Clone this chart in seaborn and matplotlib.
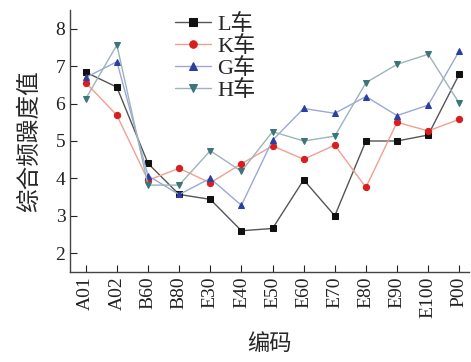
import matplotlib
matplotlib.use("Agg")
import matplotlib.pyplot as plt
import seaborn as sns
import pandas as pd

codes = ["A01", "A02", "B60", "B80", "E30", "E40", "E50", "E60", "E70", "E80", "E90", "E100", "P00"]
L_vals = [6.84, 6.44, 4.40, 3.57, 3.44, 2.60, 2.66, 3.96, 3.00, 5.00, 5.00, 5.16, 6.79]
K_vals = [6.56, 5.69, 3.95, 4.27, 3.88, 4.39, 4.87, 4.51, 4.89, 3.76, 5.50, 5.27, 5.58]
G_vals = [6.70, 7.12, 4.07, 3.57, 4.00, 3.28, 5.02, 5.87, 5.74, 6.19, 5.68, 5.96, 7.41]
H_vals = [6.13, 7.57, 3.82, 3.82, 4.74, 4.19, 5.25, 5.00, 5.13, 6.56, 7.05, 7.32, 6.01]
series_names = ["L车", "K车", "G车", "H车"]

sns.set_theme(style="ticks")
plt.rcParams['font.family'] = ['Liberation Serif', 'Noto Sans CJK SC']

rows = []
for name, vals in zip(series_names, [L_vals, K_vals, G_vals, H_vals]):
    for i, (c, v) in enumerate(zip(codes, vals)):
        rows.append({"pos": i, "code": c, "car": name, "value": v})
df = pd.DataFrame(rows)

marker_colors = {"L车": "#111111", "K车": "#d81e1e", "G车": "#2a3f9e", "H车": "#3d7478"}
line_colors = {"L车": "#555555", "K车": "#f0a090", "G车": "#9aa8d8", "H车": "#9cb4b8"}
markers = {"L车": "s", "K车": "o", "G车": "^", "H车": "v"}

fig = plt.figure(figsize=(4.71, 3.62), dpi=100)
ax = fig.add_axes([0.149, 0.249, 0.846, 0.723])

for name in series_names:
    sub = df[df["car"] == name]
    sns.lineplot(data=sub, x="pos", y="value", ax=ax, color=line_colors[name],
                 linewidth=1.0, marker=markers[name], markersize=4.5,
                 markerfacecolor=marker_colors[name], markeredgecolor=marker_colors[name],
                 label=name, legend=False)

ax.set_xlim(-0.5, 12.3)
ax.set_ylim(1.5, 8.5)
ax.set_xticks(range(len(codes)))
ax.set_xticklabels(codes, rotation=90, fontsize=14)
ax.set_yticks([2, 3, 4, 5, 6, 7, 8])
ax.tick_params(axis='both', direction='in', length=5, width=0.8, labelsize=14, colors='#222222')
ax.set_xlabel("编码", fontsize=16, family=['Noto Sans CJK SC'], labelpad=10)
ax.set_ylabel("综合频躁度值", fontsize=17, family=['Noto Sans CJK SC'], labelpad=10)
for s in ["top", "right"]:
    ax.spines[s].set_visible(False)
for s in ["left", "bottom"]:
    ax.spines[s].set_color("#444444")
    ax.spines[s].set_linewidth(1.0)

handles, labels = ax.get_legend_handles_labels()
ax.legend(handles, labels, loc="upper left", bbox_to_anchor=(0.225, 1.045), frameon=False,
          fontsize=16, handlelength=1.6, handletextpad=0.3, labelspacing=0.05, borderpad=0.2,
          markerscale=1.2)

fig.savefig("out.png", dpi=100)
